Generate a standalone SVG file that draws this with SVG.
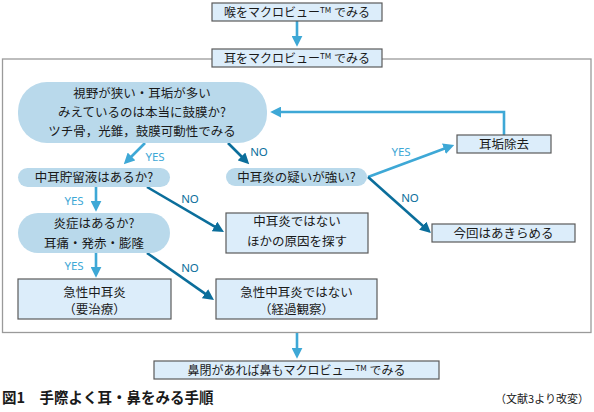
<svg xmlns="http://www.w3.org/2000/svg" width="594" height="412" viewBox="0 0 594 412">
<style>
.t{font-family:"Noto Sans CJK JP","Noto Sans",sans-serif;font-size:12.5px;fill:#1a1a1a;text-anchor:middle}
.s{font-size:12px}
.box{fill:#dcedfa;stroke:#5a5a5a;stroke-width:1.2}
.pill{fill:#b9d9eb;stroke:none}
.lt{stroke:#3ea8d6;stroke-width:2.6;fill:none}
.dk{stroke:#0b6e9b;stroke-width:2.6;fill:none}
.yes{font-family:"Noto Sans","Liberation Sans",sans-serif;font-size:11.5px;fill:#3ea8d6;text-anchor:middle}
.no{font-family:"Noto Sans","Liberation Sans",sans-serif;font-size:11.5px;fill:#0b6e9b;text-anchor:middle}
.tm{font-size:8px}
</style>
<defs>
<marker id="ah-lt" viewBox="0 0 10 10" refX="2" refY="5" markerWidth="11" markerHeight="11" markerUnits="userSpaceOnUse" orient="auto"><path d="M0,0 L10,5 L0,10 z" fill="#3ea8d6"/></marker>
<marker id="ah-dk" viewBox="0 0 10 10" refX="2" refY="5" markerWidth="11" markerHeight="11" markerUnits="userSpaceOnUse" orient="auto"><path d="M0,0 L10,5 L0,10 z" fill="#0b6e9b"/></marker>
</defs>
<rect x="0" y="0" width="594" height="412" fill="#ffffff"/>
<rect id="frame" x="2.5" y="59" width="588.5" height="273.5" fill="none" stroke="#9a9a9a" stroke-width="1.3"/>
<g id="connectors">
<path class="lt" d="M297,21 L297,38" marker-end="url(#ah-lt)"/>
<path class="lt" d="M297,333 L297,350" marker-end="url(#ah-lt)"/>
<path class="lt" d="M145,143 L130,158" marker-end="url(#ah-lt)"/>
<path class="dk" d="M228,143 L243,158" marker-end="url(#ah-dk)"/>
<path class="lt" d="M504,135 L504,112 L279,112" marker-end="url(#ah-lt)"/>
<path class="lt" d="M368,177 L446,148" marker-end="url(#ah-lt)"/>
<path class="dk" d="M368,177 L424.4,227.2" marker-end="url(#ah-dk)"/>
<path class="lt" d="M96,187 L96,203" marker-end="url(#ah-lt)"/>
<path class="dk" d="M147,187 L216.4,227.6" marker-end="url(#ah-dk)"/>
<path class="lt" d="M96,253 L96,269" marker-end="url(#ah-lt)"/>
<path class="dk" d="M147,253 L206.8,294.9" marker-end="url(#ah-dk)"/>
<text class="yes" x="155" y="161">YES</text>
<text class="no" x="259" y="156">NO</text>
<text class="yes" x="401" y="156">YES</text>
<text class="no" x="410" y="202">NO</text>
<text class="yes" x="74" y="205">YES</text>
<text class="no" x="190" y="203">NO</text>
<text class="yes" x="74" y="270">YES</text>
<text class="no" x="190" y="272">NO</text>
</g>
<g id="n-throat"><rect class="box" x="212" y="3" width="170" height="18"/><text class="t s" x="297" y="16.5">喉をマクロビュー<tspan class="tm" dy="-4">TM</tspan><tspan dy="4"> でみる</tspan></text></g>
<g id="n-ear"><rect class="box" x="212" y="49" width="170" height="18"/><text class="t s" x="297" y="62.5">耳をマクロビュー<tspan class="tm" dy="-4">TM</tspan><tspan dy="4"> でみる</tspan></text></g>
<g id="n-view"><rect class="pill" x="18" y="82" width="249" height="61" rx="29"/>
<text class="t" x="142" y="97.5">視野が狭い・耳垢が多い</text>
<text class="t" x="142" y="117">みえているのは本当に鼓膜か?</text>
<text class="t" x="142" y="136">ツチ骨，光錐，鼓膜可動性でみる</text></g>
<g id="n-wax"><rect class="box" x="457" y="135" width="94" height="18"/><text class="t" x="504" y="148.5">耳垢除去</text></g>
<g id="n-effusion"><rect class="pill" x="18" y="168" width="152" height="19" rx="9.5"/><text class="t" x="94" y="182">中耳貯留液はあるか?</text></g>
<g id="n-suspect"><rect class="pill" x="226" y="168" width="141" height="18" rx="9"/><text class="t" x="296.5" y="181.7">中耳炎の疑いが強い?</text></g>
<g id="n-giveup"><rect class="box" x="432" y="224" width="143" height="18"/><text class="t" x="503.5" y="237.7">今回はあきらめる</text></g>
<g id="n-inflam"><rect class="pill" x="18" y="213" width="152" height="40" rx="20"/>
<text class="t" x="94" y="227.5">炎症はあるか?</text>
<text class="t" x="94" y="247.5">耳痛・発赤・膨隆</text></g>
<g id="n-other"><rect class="box" x="226" y="213" width="142" height="40"/>
<text class="t" x="297" y="225.5">中耳炎ではない</text>
<text class="t" x="297" y="246">ほかの原因を探す</text></g>
<g id="n-aom"><rect class="box" x="18" y="279" width="153" height="40"/>
<text class="t" x="94.5" y="296.5">急性中耳炎</text>
<text class="t" x="94.5" y="314">（要治療）</text></g>
<g id="n-notaom"><rect class="box" x="216" y="279" width="161" height="40"/>
<text class="t" x="296.5" y="296.5">急性中耳炎ではない</text>
<text class="t" x="296.5" y="314">（経過観察）</text></g>
<g id="n-nose"><rect class="box" x="154" y="361" width="285" height="18"/><text class="t s" x="296.5" y="374.5">鼻閉があれば鼻もマクロビュー<tspan class="tm" dy="-4">TM</tspan><tspan dy="4"> でみる</tspan></text></g>
<text x="2" y="402.5" font-family="Noto Sans CJK JP, sans-serif" font-size="14.5px" font-weight="bold" fill="#1a1a1a">図1　手際よく耳・鼻をみる手順</text>
<text x="589" y="403" font-family="Noto Sans CJK JP, sans-serif" font-size="11px" fill="#1a1a1a" text-anchor="end">（文献3より改変）</text>
</svg>
